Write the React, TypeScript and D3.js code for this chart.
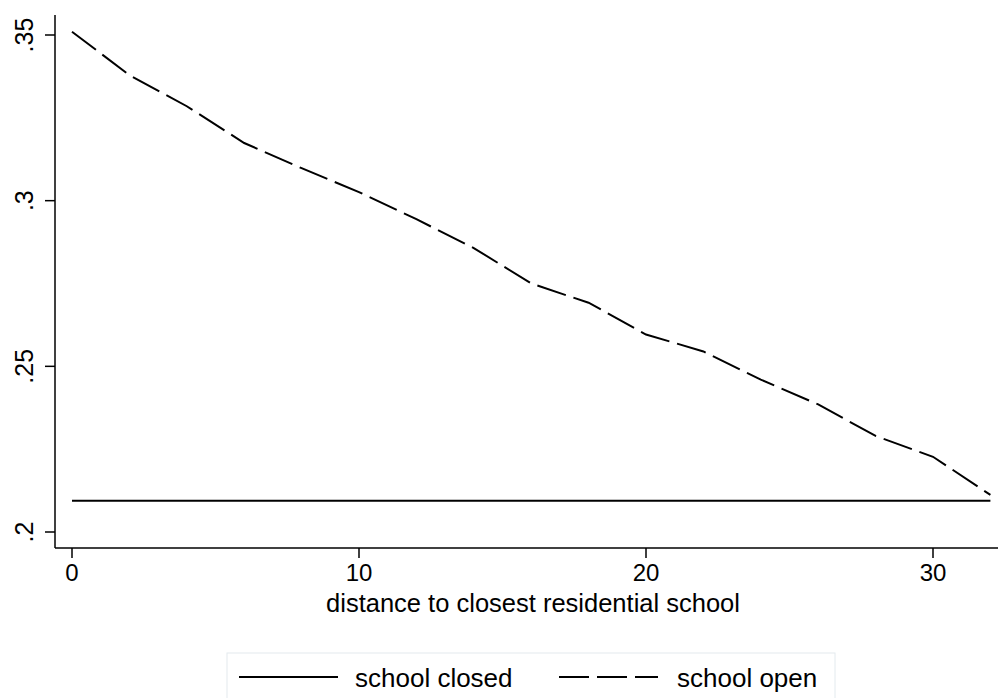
import React from "react";
import { scaleLinear, line } from "d3";

// distance (x) and predicted values
const distance = [0, 2, 4, 6, 8, 10, 12, 14, 16, 18, 20, 22, 24, 26, 28, 30, 32];
const schoolOpen = [
  0.351, 0.3379, 0.3285, 0.3174, 0.3098, 0.3026, 0.2944, 0.2857, 0.275,
  0.2692, 0.2596, 0.2545, 0.246, 0.2385, 0.229, 0.2227, 0.2112,
];
const schoolClosed = [
  0.2094, 0.2094, 0.2094, 0.2094, 0.2094, 0.2094, 0.2094, 0.2094, 0.2094,
  0.2094, 0.2094, 0.2094, 0.2094, 0.2094, 0.2094, 0.2094, 0.2094,
];
const xTicks = [0, 10, 20, 30];
const yTicks = [0.2, 0.25, 0.3, 0.35];
const yTickLabels = [".2", ".25", ".3", ".35"];
const legendLabels = ["school closed", "school open"];
const xTitle = "distance to closest residential school";

const W = 998;
const H = 698;
const FONT = "'Liberation Sans', Arial, Helvetica, sans-serif";
const DASH = "30 8";

export default function App() {
  const x = scaleLinear().domain([0, 30]).range([72, 933]);
  const y = scaleLinear().domain([0.2, 0.35]).range([532, 35]);

  const axisY = 548;
  const axisX = 55;

  const mk = (vals: number[]) =>
    line<number>()
      .x((_, i) => x(distance[i]))
      .y((v) => y(v))(vals) || "";

  return (
    <svg
      width={W}
      height={H}
      style={{ position: "absolute", left: 0, top: 0, background: "#fff" }}
      fontFamily={FONT}
    >
      <rect x={0} y={0} width={W} height={H} fill="#fff" />

      {/* y axis */}
      <line x1={axisX} x2={axisX} y1={15} y2={axisY} stroke="#000" strokeWidth={1.5} />
      {yTicks.map((t, i) => (
        <g key={t}>
          <line x1={axisX - 10} x2={axisX} y1={y(t)} y2={y(t)} stroke="#000" strokeWidth={1.5} />
          <text
            transform={`translate(33, ${y(t)}) rotate(-90)`}
            textAnchor="middle"
            fontSize={25}
            fill="#000"
          >
            {yTickLabels[i]}
          </text>
        </g>
      ))}

      {/* x axis */}
      <line x1={axisX} x2={W} y1={axisY} y2={axisY} stroke="#000" strokeWidth={1.5} />
      {xTicks.map((t) => (
        <g key={t}>
          <line x1={x(t)} x2={x(t)} y1={axisY} y2={axisY + 10} stroke="#000" strokeWidth={1.5} />
          <text x={x(t)} y={581} textAnchor="middle" fontSize={24} fill="#000">
            {t}
          </text>
        </g>
      ))}
      <text x={(318 + 748) / 2} y={612} textAnchor="middle" fontSize={25.5} fill="#000">
        {xTitle}
      </text>

      {/* series */}
      <path d={mk(schoolClosed)} fill="none" stroke="#000" strokeWidth={2} />
      <path d={mk(schoolOpen)} fill="none" stroke="#000" strokeWidth={2} strokeDasharray={DASH} />

      {/* legend */}
      <rect x={227} y={653} width={608} height={60} fill="#fff" stroke="#e3eaee" strokeWidth={1} />
      <line x1={239} x2={338} y1={677} y2={677} stroke="#000" strokeWidth={2} />
      <text x={355} y={687} fontSize={26} fill="#000">
        {legendLabels[0]}
      </text>
      <line x1={559} x2={658} y1={677} y2={677} stroke="#000" strokeWidth={2} strokeDasharray={DASH} />
      <text x={677} y={687} fontSize={26} fill="#000">
        {legendLabels[1]}
      </text>
    </svg>
  );
}
